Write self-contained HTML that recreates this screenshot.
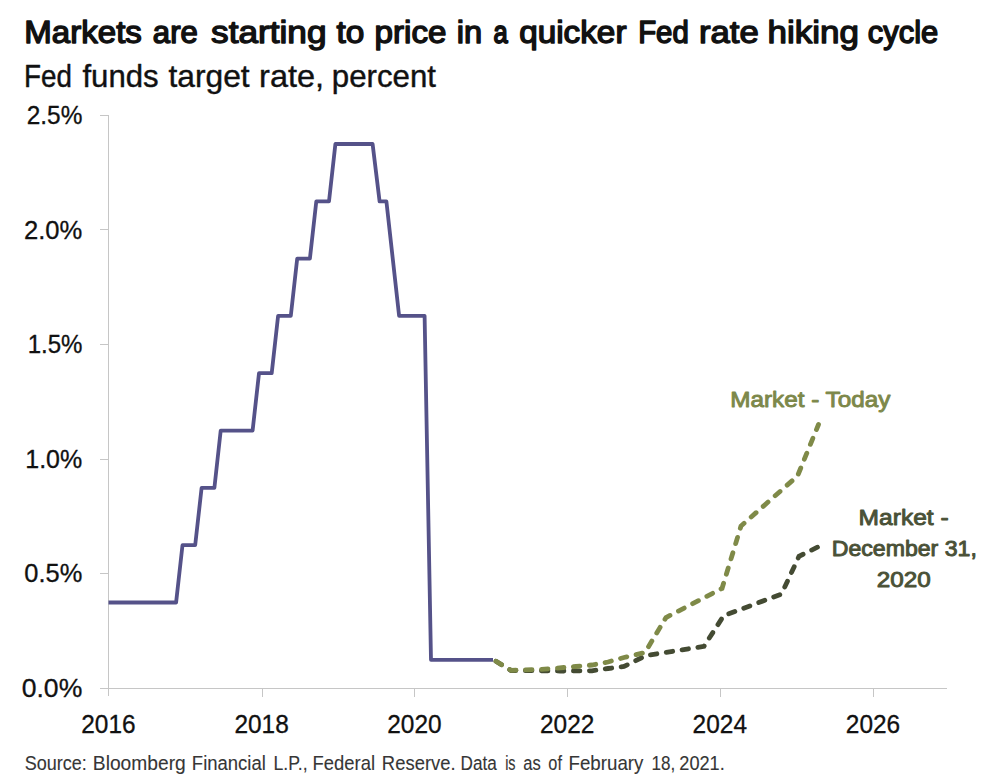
<!DOCTYPE html>
<html><head><meta charset="utf-8">
<style>
html,body{margin:0;padding:0;background:#fff;width:1000px;height:777px;overflow:hidden}
svg{display:block;font-family:"Liberation Sans",sans-serif}
</style></head>
<body>
<svg width="1000" height="777" viewBox="0 0 1000 777">
<rect width="1000" height="777" fill="#fff"/>
<g stroke="#c6c6c6" stroke-width="1" fill="none">
<path d="M108.5 115 V696"/>
<path d="M100 688.5 H947"/>
<path d="M100 115.5 H108.5 M100 229.5 H108.5 M100 344.5 H108.5 M100 459.5 H108.5 M100 573.5 H108.5"/>
<path d="M262.5 688.5 V697 M414.5 688.5 V697 M567.5 688.5 V697 M720.5 688.5 V697 M873.5 688.5 V697"/>
</g>
<text transform="translate(24.32 42.7) scale(1.0664 1)" font-size="31.0" stroke="#111" stroke-width="1.407" stroke-linejoin="round" fill="#111">Markets</text>
<text transform="translate(152.85 42.7) scale(1.0032 1)" font-size="31.0" stroke="#111" stroke-width="1.495" stroke-linejoin="round" fill="#111">are</text>
<text transform="translate(211.05 42.7) scale(1.1363 1)" font-size="31.0" stroke="#111" stroke-width="1.320" stroke-linejoin="round" fill="#111">starting</text>
<text transform="translate(336.55 42.7) scale(1.0767 1)" font-size="31.0" stroke="#111" stroke-width="1.393" stroke-linejoin="round" fill="#111">to</text>
<text transform="translate(374.61 42.7) scale(1.0696 1)" font-size="31.0" stroke="#111" stroke-width="1.402" stroke-linejoin="round" fill="#111">price</text>
<text transform="translate(456.64 42.7) scale(1.0533 1)" font-size="31.0" stroke="#111" stroke-width="1.424" stroke-linejoin="round" fill="#111">in</text>
<text transform="translate(493.43 42.7) scale(0.8235 1)" font-size="31.0" stroke="#111" stroke-width="1.821" stroke-linejoin="round" fill="#111">a</text>
<text transform="translate(519.18 42.7) scale(1.0739 1)" font-size="31.0" stroke="#111" stroke-width="1.397" stroke-linejoin="round" fill="#111">quicker</text>
<text transform="translate(638.16 42.7) scale(0.9467 1)" font-size="31.0" stroke="#111" stroke-width="1.585" stroke-linejoin="round" fill="#111">Fed</text>
<text transform="translate(698.91 42.7) scale(1.1200 1)" font-size="31.0" stroke="#111" stroke-width="1.339" stroke-linejoin="round" fill="#111">rate</text>
<text transform="translate(767.49 42.7) scale(1.1279 1)" font-size="31.0" stroke="#111" stroke-width="1.330" stroke-linejoin="round" fill="#111">hiking</text>
<text transform="translate(867.75 42.7) scale(0.9987 1)" font-size="31.0" stroke="#111" stroke-width="1.502" stroke-linejoin="round" fill="#111">cycle</text>
<text transform="translate(24.01 86.5) scale(0.8968 1)" font-size="31" stroke="#111" stroke-width="0.446" stroke-linejoin="round" fill="#111">Fed</text>
<text transform="translate(82.40 86.5) scale(1.0062 1)" font-size="31" stroke="#111" stroke-width="0.398" stroke-linejoin="round" fill="#111">funds</text>
<text transform="translate(168.40 86.5) scale(1.0256 1)" font-size="31" stroke="#111" stroke-width="0.390" stroke-linejoin="round" fill="#111">target</text>
<text transform="translate(259.10 86.5) scale(1.0485 1)" font-size="31" stroke="#111" stroke-width="0.382" stroke-linejoin="round" fill="#111">rate,</text>
<text transform="translate(331.78 86.5) scale(1.0080 1)" font-size="31" stroke="#111" stroke-width="0.397" stroke-linejoin="round" fill="#111">percent</text>
<text transform="translate(24.65 770.1) scale(0.8751 1)" font-size="20.6" stroke="#363636" stroke-width="0.114" stroke-linejoin="round" fill="#363636">Source:</text>
<text transform="translate(92.82 770.1) scale(0.9334 1)" font-size="20.6" stroke="#363636" stroke-width="0.107" stroke-linejoin="round" fill="#363636">Bloomberg</text>
<text transform="translate(191.85 770.1) scale(0.8981 1)" font-size="20.6" stroke="#363636" stroke-width="0.111" stroke-linejoin="round" fill="#363636">Financial</text>
<text transform="translate(273.49 770.1) scale(0.8600 1)" font-size="20.6" stroke="#363636" stroke-width="0.116" stroke-linejoin="round" fill="#363636">L.P.,</text>
<text transform="translate(312.55 770.1) scale(0.8952 1)" font-size="20.6" stroke="#363636" stroke-width="0.112" stroke-linejoin="round" fill="#363636">Federal</text>
<text transform="translate(381.85 770.1) scale(0.8960 1)" font-size="20.6" stroke="#363636" stroke-width="0.112" stroke-linejoin="round" fill="#363636">Reserve.</text>
<text transform="translate(460.62 770.1) scale(0.8340 1)" font-size="20.6" stroke="#363636" stroke-width="0.120" stroke-linejoin="round" fill="#363636">Data</text>
<text transform="translate(505.15 770.1) scale(0.6998 1)" font-size="20.6" stroke="#363636" stroke-width="0.143" stroke-linejoin="round" fill="#363636">is</text>
<text transform="translate(523.35 770.1) scale(0.8017 1)" font-size="20.6" stroke="#363636" stroke-width="0.125" stroke-linejoin="round" fill="#363636">as</text>
<text transform="translate(548.35 770.1) scale(0.7907 1)" font-size="20.6" stroke="#363636" stroke-width="0.126" stroke-linejoin="round" fill="#363636">of</text>
<text transform="translate(568.54 770.1) scale(0.9086 1)" font-size="20.6" stroke="#363636" stroke-width="0.110" stroke-linejoin="round" fill="#363636">February</text>
<text transform="translate(651.42 770.1) scale(0.8299 1)" font-size="20.6" stroke="#363636" stroke-width="0.120" stroke-linejoin="round" fill="#363636">18,</text>
<text transform="translate(679.27 770.1) scale(0.8830 1)" font-size="20.6" stroke="#363636" stroke-width="0.113" stroke-linejoin="round" fill="#363636">2021.</text>
<text transform="translate(26.73 124) scale(0.9212 1)" font-size="26.5" stroke="#111" stroke-width="0.326" stroke-linejoin="round" fill="#111">2.5%</text>
<text transform="translate(23.98 238.6) scale(0.9671 1)" font-size="26.5" stroke="#111" stroke-width="0.310" stroke-linejoin="round" fill="#111">2.0%</text>
<text transform="translate(27.63 353.2) scale(0.9094 1)" font-size="26.5" stroke="#111" stroke-width="0.330" stroke-linejoin="round" fill="#111">1.5%</text>
<text transform="translate(25.26 467.8) scale(0.9440 1)" font-size="26.5" stroke="#111" stroke-width="0.318" stroke-linejoin="round" fill="#111">1.0%</text>
<text transform="translate(24.29 582.2) scale(0.9603 1)" font-size="26.5" stroke="#111" stroke-width="0.312" stroke-linejoin="round" fill="#111">0.5%</text>
<text transform="translate(21.65 696.9) scale(1.0044 1)" font-size="26.5" stroke="#111" stroke-width="0.299" stroke-linejoin="round" fill="#111">0.0%</text>
<text transform="translate(81.22 732.8) scale(0.9331 1)" font-size="26.2" stroke="#111" stroke-width="0.322" stroke-linejoin="round" fill="#111">2016</text>
<text transform="translate(234.42 732.8) scale(0.9331 1)" font-size="26.2" stroke="#111" stroke-width="0.322" stroke-linejoin="round" fill="#111">2018</text>
<text transform="translate(387.22 732.8) scale(0.9331 1)" font-size="26.2" stroke="#111" stroke-width="0.322" stroke-linejoin="round" fill="#111">2020</text>
<text transform="translate(540.02 732.8) scale(0.9331 1)" font-size="26.2" stroke="#111" stroke-width="0.322" stroke-linejoin="round" fill="#111">2022</text>
<text transform="translate(692.62 732.8) scale(0.9331 1)" font-size="26.2" stroke="#111" stroke-width="0.322" stroke-linejoin="round" fill="#111">2024</text>
<text transform="translate(845.82 732.8) scale(0.9331 1)" font-size="26.2" stroke="#111" stroke-width="0.322" stroke-linejoin="round" fill="#111">2026</text>
<text transform="translate(730.23 406.9) scale(1.0709 1)" font-size="22.7" stroke="#7d884a" stroke-width="0.934" stroke-linejoin="round" fill="#7d884a">Market - Today</text>
<text transform="translate(858.62 525.2) scale(1.0828 1)" font-size="22.7" stroke="#4a5137" stroke-width="0.924" stroke-linejoin="round" fill="#4a5137">Market -</text>
<text transform="translate(831.78 556) scale(1.0179 1)" font-size="22.7" stroke="#4a5137" stroke-width="0.982" stroke-linejoin="round" fill="#4a5137">December 31,</text>
<text transform="translate(876.83 586.8) scale(1.0685 1)" font-size="22.7" stroke="#4a5137" stroke-width="0.936" stroke-linejoin="round" fill="#4a5137">2020</text>
<polyline fill="none" stroke="#555289" stroke-width="3.8" stroke-linejoin="round" points="108.5,602.5 176.1,602.5 182.5,545.1 195.2,545.1 201.6,487.9 214.4,487.9 220.7,430.6 252.6,430.6 259.0,373.2 271.7,373.2 278.1,315.9 290.8,315.9 297.2,258.6 309.9,258.6 316.3,201.4 329.0,201.4 335.4,144.0 372.6,144.0 379.6,201.4 386.4,201.4 399.1,315.9 424.6,315.9 431.0,659.8 493.0,659.8"/>
<polyline fill="none" stroke="#444b33" stroke-width="4.8" stroke-linecap="round" stroke-dasharray="6.5 9.5" stroke-dashoffset="-3.5" points="493,659.5 511,670.5 560,671 592,670.8 608,668.5 624,666.5 646,655.5 704,646.3 723.6,615.8 781.5,594 799,556.3 818.5,546.7"/>
<polyline fill="none" stroke="#7f8a48" stroke-width="4.8" stroke-linecap="round" stroke-dasharray="6.5 9.5" stroke-dashoffset="-3.5" points="493,659.5 511,670.3 540,669.5 576,666.5 592,665 608,662 624,657.5 645,652.5 666,617.5 722,588.5 741,526 797.5,476 818.5,424.5"/>
</svg>
</body></html>
